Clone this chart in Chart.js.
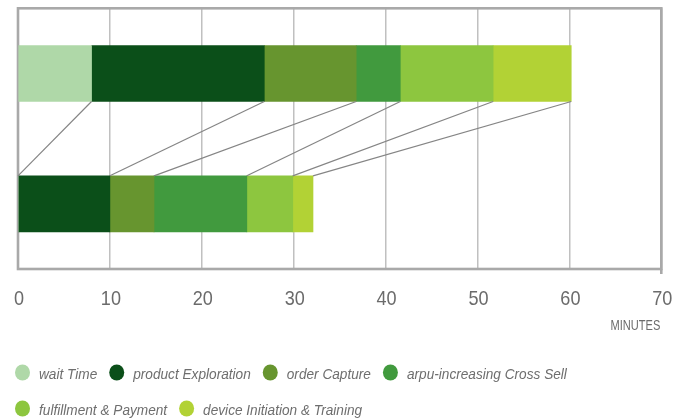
<!DOCTYPE html>
<html>
<head>
<meta charset="utf-8">
<script src="https://cdn.jsdelivr.net/npm/chart.js@4"></script>
<style>
  html, body { margin: 0; padding: 0; background: #ffffff; }
  #wrap { width: 674px; height: 420px; position: relative; }
</style>
</head>
<body>
<div id="wrap"><canvas id="chart" width="674" height="420"></canvas></div>
<script>
// Two process runs, stacked by step (minutes)
const categories = ['Current process', 'Streamlined process'];
const stepNames = [
  'wait Time',
  'product Exploration',
  'order Capture',
  'arpu-increasing Cross Sell',
  'fulfillment & Payment',
  'device Initiation & Training'
];
const waitTime           = [8, 0];
const productExploration = [18.8, 10];
const orderCapture       = [10, 4.8];
const crossSell          = [4.8, 10.1];
const fulfillment        = [10.1, 5];
const deviceInitiation   = [8.5, 2.2];
const xTickValues = [0, 10, 20, 30, 40, 50, 60, 70];
const axisTitle = 'MINUTES';

const stepColors = ['#afd8a8', '#0b4f19', '#67952f', '#419a3e', '#8dc63f', '#b2d235'];
const stepValues = [waitTime, productExploration, orderCapture, crossSell, fulfillment, deviceInitiation];

const sans = '"Liberation Sans", Arial, sans-serif';

// Draw text squeezed horizontally to get a condensed face
function narrowText(ctx, text, x, y, font, squeeze, align, color) {
  ctx.save();
  ctx.font = font;
  ctx.fillStyle = color;
  ctx.textBaseline = 'alphabetic';
  ctx.textAlign = align;
  ctx.translate(x, y);
  ctx.scale(squeeze, 1);
  ctx.fillText(text, 0, 0);
  ctx.restore();
}

// Gray frame around the plot area, under the bars
const framePlugin = {
  id: 'frame',
  beforeDatasetsDraw(chart) {
    const { ctx, chartArea: a } = chart;
    ctx.save();
    ctx.strokeStyle = '#a9a9a9';
    ctx.lineWidth = 2.6;
    ctx.strokeRect(a.left, a.top, a.right - a.left, a.bottom - a.top);
    ctx.beginPath();
    ctx.moveTo(a.right, a.bottom);
    ctx.lineTo(a.right, a.bottom + 5);
    ctx.stroke();
    ctx.restore();
  }
};

// Thin lines joining each step boundary of the first bar to the same boundary of the second
const connectorPlugin = {
  id: 'connectors',
  afterDatasetsDraw(chart) {
    const { ctx } = chart;
    ctx.save();
    ctx.strokeStyle = '#858585';
    ctx.lineWidth = 1.2;
    chart.data.datasets.forEach((ds, i) => {
      const meta = chart.getDatasetMeta(i);
      const top = meta.data[0], bottom = meta.data[1];
      if (!top || !bottom) return;
      ctx.beginPath();
      ctx.moveTo(top.x, top.y + top.height / 2);
      ctx.lineTo(bottom.x, bottom.y - bottom.height / 2);
      ctx.stroke();
    });
    ctx.restore();
  }
};

// Condensed tick labels and axis title under the x axis
const axisTextPlugin = {
  id: 'axisText',
  afterDraw(chart) {
    const { ctx, chartArea: a } = chart;
    const xScale = chart.scales.x;
    xTickValues.forEach(v => {
      narrowText(ctx, String(v), xScale.getPixelForValue(v) + 1, a.bottom + 36,
        '21px ' + sans, 0.86, 'center', '#6b6b6b');
    });
    narrowText(ctx, axisTitle, a.right - 1, a.bottom + 61, '14px ' + sans, 0.79, 'right', '#6b6b6b');
  }
};

// Legend: colored dots with italic labels, wrapping across rows
const legendPlugin = {
  id: 'dotLegend',
  afterDraw(chart) {
    const { ctx, chartArea: a } = chart;
    const r = 7.5, dotToText = 16.5, gap = 12, rowGap = 36, squeeze = 0.88;
    const font = 'italic 15.5px ' + sans;
    let x = 15, base = a.bottom + 110;
    ctx.save();
    ctx.font = font;
    chart.data.datasets.forEach(ds => {
      const w = ctx.measureText(ds.label).width * squeeze;
      const itemW = r + dotToText + w;
      if (x + itemW > chart.width - 4) { x = 15; base += rowGap; }
      ctx.fillStyle = ds.backgroundColor;
      ctx.beginPath();
      ctx.ellipse(x + r, base - 6.5, r, r + 0.6, 0, 0, Math.PI * 2);
      ctx.fill();
      narrowText(ctx, ds.label, x + r + dotToText, base, font, squeeze, 'left', '#6e6e6e');
      x += itemW + gap;
    });
    ctx.restore();
  }
};

new Chart(document.getElementById('chart'), {
  type: 'bar',
  data: {
    labels: categories,
    datasets: stepNames.map((name, i) => ({
      label: name,
      data: stepValues[i],
      backgroundColor: stepColors[i],
      borderWidth: 0,
      barThickness: 56
    }))
  },
  options: {
    indexAxis: 'y',
    responsive: false,
    animation: false,
    devicePixelRatio: 1,
    layout: { padding: { left: 18, right: 12.7, top: 8.3, bottom: 91 } },
    plugins: {
      legend: { display: false },
      tooltip: { enabled: false }
    },
    events: [],
    scales: {
      x: {
        stacked: true,
        min: 0,
        max: 70,
        afterBuildTicks(scale) { scale.ticks = xTickValues.map(v => ({ value: v })); },
        afterFit(scale) { scale.height = 60; },
        ticks: { display: false },
        grid: { color: '#c0c0c0', lineWidth: 1.5, drawTicks: false },
        border: { display: false }
      },
      y: {
        stacked: true,
        display: false
      }
    }
  },
  plugins: [framePlugin, connectorPlugin, axisTextPlugin, legendPlugin]
});
</script>
</body>
</html>
